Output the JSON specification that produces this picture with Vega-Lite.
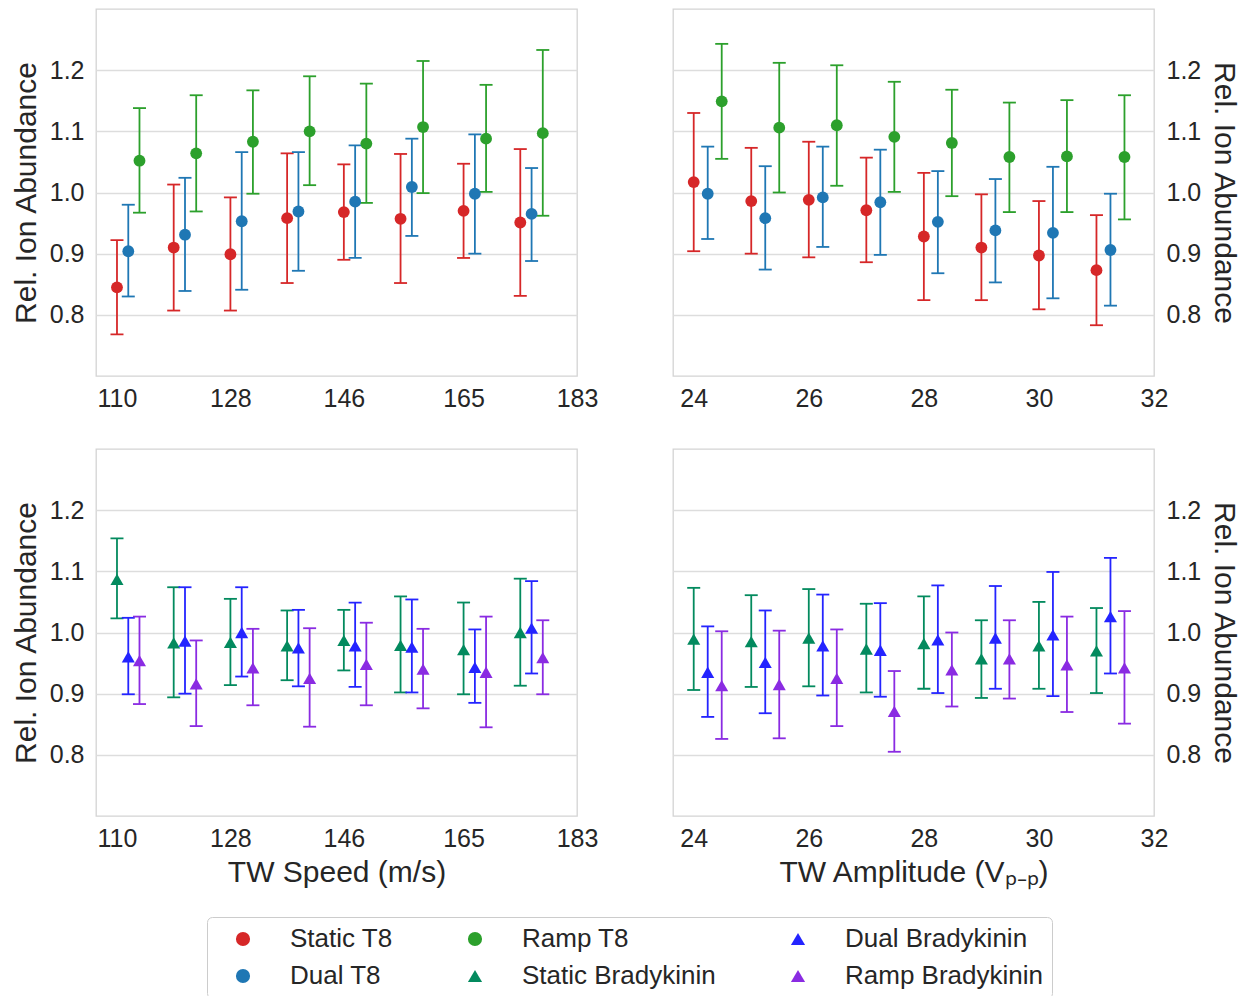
{
"$schema": "https://vega.github.io/schema/vega-lite/v6.json",
"padding": {"left": 10, "top": 8, "right": 5, "bottom": 5},
"background": "white",
"bounds": "flush",
"columns": 2,
"spacing": {"row": 73, "column": 96},
"config": {
  "font": "Liberation Sans",
  "view": {"stroke": "#d4d4d4", "strokeWidth": 1.3},
  "axis": {"labelFont": "Liberation Sans", "titleFont": "Liberation Sans", "labelFontSize": 25, "titleFontSize": 30, "titleFontWeight": "normal", "labelColor": "#262626", "titleColor": "#262626", "gridColor": "#dddddd", "gridWidth": 1.3, "ticks": false, "domain": false},
  "legend": {"labelFont": "Liberation Sans", "labelFontSize": 26, "labelColor": "#262626", "labelLimit": 500}
},
"datasets": {
  "t8speed": [
    {"series":"Static T8","speed":110,"value":0.845,"low":0.768,"high":0.922},
    {"series":"Static T8","speed":119,"value":0.910,"low":0.807,"high":1.013},
    {"series":"Static T8","speed":128,"value":0.899,"low":0.807,"high":0.992},
    {"series":"Static T8","speed":137,"value":0.958,"low":0.852,"high":1.064},
    {"series":"Static T8","speed":146,"value":0.968,"low":0.890,"high":1.046},
    {"series":"Static T8","speed":155,"value":0.957,"low":0.852,"high":1.063},
    {"series":"Static T8","speed":165,"value":0.970,"low":0.893,"high":1.047},
    {"series":"Static T8","speed":174,"value":0.951,"low":0.831,"high":1.071},
    {"series":"Dual T8","speed":110,"value":0.904,"low":0.830,"high":0.980},
    {"series":"Dual T8","speed":119,"value":0.931,"low":0.839,"high":1.024},
    {"series":"Dual T8","speed":128,"value":0.953,"low":0.841,"high":1.066},
    {"series":"Dual T8","speed":137,"value":0.969,"low":0.872,"high":1.066},
    {"series":"Dual T8","speed":146,"value":0.985,"low":0.893,"high":1.077},
    {"series":"Dual T8","speed":155,"value":1.009,"low":0.929,"high":1.088},
    {"series":"Dual T8","speed":165,"value":0.998,"low":0.900,"high":1.095},
    {"series":"Dual T8","speed":174,"value":0.965,"low":0.888,"high":1.040},
    {"series":"Ramp T8","speed":110,"value":1.052,"low":0.967,"high":1.138},
    {"series":"Ramp T8","speed":119,"value":1.064,"low":0.969,"high":1.159},
    {"series":"Ramp T8","speed":128,"value":1.083,"low":0.998,"high":1.167},
    {"series":"Ramp T8","speed":137,"value":1.100,"low":1.012,"high":1.190},
    {"series":"Ramp T8","speed":146,"value":1.080,"low":0.983,"high":1.178},
    {"series":"Ramp T8","speed":155,"value":1.107,"low":0.999,"high":1.215},
    {"series":"Ramp T8","speed":165,"value":1.088,"low":1.001,"high":1.176},
    {"series":"Ramp T8","speed":174,"value":1.097,"low":0.962,"high":1.233}
  ],
  "t8amp": [
    {"series":"Static T8","amplitude":24,"value":1.017,"low":0.904,"high":1.130},
    {"series":"Static T8","amplitude":25,"value":0.986,"low":0.900,"high":1.073},
    {"series":"Static T8","amplitude":26,"value":0.988,"low":0.894,"high":1.083},
    {"series":"Static T8","amplitude":27,"value":0.971,"low":0.886,"high":1.057},
    {"series":"Static T8","amplitude":28,"value":0.928,"low":0.824,"high":1.032},
    {"series":"Static T8","amplitude":29,"value":0.910,"low":0.824,"high":0.997},
    {"series":"Static T8","amplitude":30,"value":0.897,"low":0.809,"high":0.986},
    {"series":"Static T8","amplitude":31,"value":0.873,"low":0.783,"high":0.963},
    {"series":"Dual T8","amplitude":24,"value":0.998,"low":0.924,"high":1.075},
    {"series":"Dual T8","amplitude":25,"value":0.958,"low":0.874,"high":1.043},
    {"series":"Dual T8","amplitude":26,"value":0.992,"low":0.911,"high":1.075},
    {"series":"Dual T8","amplitude":27,"value":0.984,"low":0.898,"high":1.070},
    {"series":"Dual T8","amplitude":28,"value":0.952,"low":0.868,"high":1.035},
    {"series":"Dual T8","amplitude":29,"value":0.938,"low":0.853,"high":1.022},
    {"series":"Dual T8","amplitude":30,"value":0.934,"low":0.827,"high":1.042},
    {"series":"Dual T8","amplitude":31,"value":0.906,"low":0.815,"high":0.998},
    {"series":"Ramp T8","amplitude":24,"value":1.149,"low":1.055,"high":1.243},
    {"series":"Ramp T8","amplitude":25,"value":1.106,"low":1.000,"high":1.212},
    {"series":"Ramp T8","amplitude":26,"value":1.110,"low":1.011,"high":1.208},
    {"series":"Ramp T8","amplitude":27,"value":1.091,"low":1.001,"high":1.181},
    {"series":"Ramp T8","amplitude":28,"value":1.081,"low":0.994,"high":1.168},
    {"series":"Ramp T8","amplitude":29,"value":1.058,"low":0.968,"high":1.147},
    {"series":"Ramp T8","amplitude":30,"value":1.059,"low":0.968,"high":1.151},
    {"series":"Ramp T8","amplitude":31,"value":1.058,"low":0.956,"high":1.159}
  ],
  "bkspeed": [
    {"series":"Static Bradykinin","speed":110,"value":1.087,"low":1.023,"high":1.154},
    {"series":"Static Bradykinin","speed":119,"value":0.983,"low":0.894,"high":1.074},
    {"series":"Static Bradykinin","speed":128,"value":0.984,"low":0.914,"high":1.055},
    {"series":"Static Bradykinin","speed":137,"value":0.978,"low":0.922,"high":1.036},
    {"series":"Static Bradykinin","speed":146,"value":0.987,"low":0.938,"high":1.037},
    {"series":"Static Bradykinin","speed":155,"value":0.979,"low":0.902,"high":1.059},
    {"series":"Static Bradykinin","speed":165,"value":0.972,"low":0.899,"high":1.049},
    {"series":"Static Bradykinin","speed":174,"value":1.000,"low":0.913,"high":1.088},
    {"series":"Dual Bradykinin","speed":110,"value":0.960,"low":0.899,"high":1.024},
    {"series":"Dual Bradykinin","speed":119,"value":0.986,"low":0.900,"high":1.074},
    {"series":"Dual Bradykinin","speed":128,"value":1.000,"low":0.928,"high":1.074},
    {"series":"Dual Bradykinin","speed":137,"value":0.975,"low":0.912,"high":1.037},
    {"series":"Dual Bradykinin","speed":146,"value":0.978,"low":0.911,"high":1.049},
    {"series":"Dual Bradykinin","speed":155,"value":0.976,"low":0.902,"high":1.054},
    {"series":"Dual Bradykinin","speed":165,"value":0.943,"low":0.885,"high":1.005},
    {"series":"Dual Bradykinin","speed":174,"value":1.007,"low":0.933,"high":1.084},
    {"series":"Ramp Bradykinin","speed":110,"value":0.954,"low":0.883,"high":1.026},
    {"series":"Ramp Bradykinin","speed":119,"value":0.916,"low":0.847,"high":0.987},
    {"series":"Ramp Bradykinin","speed":128,"value":0.942,"low":0.881,"high":1.006},
    {"series":"Ramp Bradykinin","speed":137,"value":0.925,"low":0.846,"high":1.007},
    {"series":"Ramp Bradykinin","speed":146,"value":0.948,"low":0.881,"high":1.016},
    {"series":"Ramp Bradykinin","speed":155,"value":0.940,"low":0.876,"high":1.006},
    {"series":"Ramp Bradykinin","speed":165,"value":0.935,"low":0.845,"high":1.026},
    {"series":"Ramp Bradykinin","speed":174,"value":0.959,"low":0.899,"high":1.020}
  ],
  "bkamp": [
    {"series":"Static Bradykinin","amplitude":24,"value":0.989,"low":0.906,"high":1.073},
    {"series":"Static Bradykinin","amplitude":25,"value":0.985,"low":0.911,"high":1.061},
    {"series":"Static Bradykinin","amplitude":26,"value":0.991,"low":0.912,"high":1.071},
    {"series":"Static Bradykinin","amplitude":27,"value":0.973,"low":0.902,"high":1.047},
    {"series":"Static Bradykinin","amplitude":28,"value":0.982,"low":0.908,"high":1.059},
    {"series":"Static Bradykinin","amplitude":29,"value":0.957,"low":0.893,"high":1.020},
    {"series":"Static Bradykinin","amplitude":30,"value":0.978,"low":0.908,"high":1.050},
    {"series":"Static Bradykinin","amplitude":31,"value":0.970,"low":0.901,"high":1.040},
    {"series":"Dual Bradykinin","amplitude":24,"value":0.935,"low":0.862,"high":1.010},
    {"series":"Dual Bradykinin","amplitude":25,"value":0.951,"low":0.868,"high":1.036},
    {"series":"Dual Bradykinin","amplitude":26,"value":0.978,"low":0.897,"high":1.062},
    {"series":"Dual Bradykinin","amplitude":27,"value":0.971,"low":0.895,"high":1.048},
    {"series":"Dual Bradykinin","amplitude":28,"value":0.988,"low":0.901,"high":1.077},
    {"series":"Dual Bradykinin","amplitude":29,"value":0.991,"low":0.908,"high":1.076},
    {"series":"Dual Bradykinin","amplitude":30,"value":0.996,"low":0.896,"high":1.099},
    {"series":"Dual Bradykinin","amplitude":31,"value":1.026,"low":0.933,"high":1.122},
    {"series":"Ramp Bradykinin","amplitude":24,"value":0.913,"low":0.826,"high":1.002},
    {"series":"Ramp Bradykinin","amplitude":25,"value":0.915,"low":0.827,"high":1.003},
    {"series":"Ramp Bradykinin","amplitude":26,"value":0.925,"low":0.847,"high":1.005},
    {"series":"Ramp Bradykinin","amplitude":27,"value":0.871,"low":0.805,"high":0.937},
    {"series":"Ramp Bradykinin","amplitude":28,"value":0.939,"low":0.879,"high":1.000},
    {"series":"Ramp Bradykinin","amplitude":29,"value":0.957,"low":0.892,"high":1.020},
    {"series":"Ramp Bradykinin","amplitude":30,"value":0.947,"low":0.870,"high":1.026},
    {"series":"Ramp Bradykinin","amplitude":31,"value":0.942,"low":0.851,"high":1.035}
  ]
},
"concat": [
  {"width": 481, "height": 367, "data": {"name": "t8speed"},
   "encoding": {"x": {"field": "speed", "type": "quantitative", "scale": {"domain": [106.67, 183], "nice": false, "zero": false}, "axis": {"values": [110,128,146,165,183], "title": null, "grid": false, "labelPadding": 10, "labelFlush": false}}},
   "layer": [
    {"transform":[{"filter":"datum.series === 'Static T8'"}],"mark":{"type":"rule","color":"#d62728","strokeWidth":1.8,"xOffset":0},"encoding":{"y":{"field":"low","type":"quantitative","scale":{"domain":[0.7,1.3],"nice":false,"zero":false},"axis":{"title":"Rel. Ion Abundance","orient":"left","values":[0.8,0.9,1.0,1.1,1.2],"format":".1f","grid":true,"labelPadding":12,"titlePadding":8}},"y2":{"field":"high"}}},
    {"transform":[{"filter":"datum.series === 'Static T8'"},{"fold":["low","high"],"as":["bound","cap"]}],"mark":{"type":"tick","orient":"horizontal","color":"#d62728","size":13,"thickness":1.8,"opacity":1,"xOffset":0},"encoding":{"y":{"field":"cap","type":"quantitative","scale":{"domain":[0.7,1.3],"nice":false,"zero":false},"axis":{"title":"Rel. Ion Abundance","orient":"left","values":[0.8,0.9,1.0,1.1,1.2],"format":".1f","grid":true,"labelPadding":12,"titlePadding":8}}}},
    {"transform":[{"filter":"datum.series === 'Dual T8'"}],"mark":{"type":"rule","color":"#1f77b4","strokeWidth":1.8,"xOffset":11.3},"encoding":{"y":{"field":"low","type":"quantitative","scale":{"domain":[0.7,1.3],"nice":false,"zero":false},"axis":{"title":"Rel. Ion Abundance","orient":"left","values":[0.8,0.9,1.0,1.1,1.2],"format":".1f","grid":true,"labelPadding":12,"titlePadding":8}},"y2":{"field":"high"}}},
    {"transform":[{"filter":"datum.series === 'Dual T8'"},{"fold":["low","high"],"as":["bound","cap"]}],"mark":{"type":"tick","orient":"horizontal","color":"#1f77b4","size":13,"thickness":1.8,"opacity":1,"xOffset":11.3},"encoding":{"y":{"field":"cap","type":"quantitative","scale":{"domain":[0.7,1.3],"nice":false,"zero":false},"axis":{"title":"Rel. Ion Abundance","orient":"left","values":[0.8,0.9,1.0,1.1,1.2],"format":".1f","grid":true,"labelPadding":12,"titlePadding":8}}}},
    {"transform":[{"filter":"datum.series === 'Ramp T8'"}],"mark":{"type":"rule","color":"#2ca02c","strokeWidth":1.8,"xOffset":22.5},"encoding":{"y":{"field":"low","type":"quantitative","scale":{"domain":[0.7,1.3],"nice":false,"zero":false},"axis":{"title":"Rel. Ion Abundance","orient":"left","values":[0.8,0.9,1.0,1.1,1.2],"format":".1f","grid":true,"labelPadding":12,"titlePadding":8}},"y2":{"field":"high"}}},
    {"transform":[{"filter":"datum.series === 'Ramp T8'"},{"fold":["low","high"],"as":["bound","cap"]}],"mark":{"type":"tick","orient":"horizontal","color":"#2ca02c","size":13,"thickness":1.8,"opacity":1,"xOffset":22.5},"encoding":{"y":{"field":"cap","type":"quantitative","scale":{"domain":[0.7,1.3],"nice":false,"zero":false},"axis":{"title":"Rel. Ion Abundance","orient":"left","values":[0.8,0.9,1.0,1.1,1.2],"format":".1f","grid":true,"labelPadding":12,"titlePadding":8}}}},
    {"transform":[{"filter":"datum.series === 'Static T8'"}],"mark":{"type":"point","filled":true,"opacity":1,"size":140,"xOffset":0},"encoding":{"y":{"field":"value","type":"quantitative","scale":{"domain":[0.7,1.3],"nice":false,"zero":false},"axis":{"title":"Rel. Ion Abundance","orient":"left","values":[0.8,0.9,1.0,1.1,1.2],"format":".1f","grid":true,"labelPadding":12,"titlePadding":8}},
      "color":{"field":"series","type":"nominal","title":null,"scale":{"domain":["Static T8","Ramp T8","Dual Bradykinin","Dual T8","Static Bradykinin","Ramp Bradykinin"],"range":["#d62728","#2ca02c","#2424ff","#1f77b4","#038a5e","#8a2be2"]},"legend":{"orient":"none","legendX":111,"legendY":908,"columns":3,"direction":"horizontal","columnPadding":55,"rowPadding":11,"symbolSize":200,"symbolOffset":14,"labelOffset":34,"padding":9,"strokeColor":"#cccccc","cornerRadius":5,"fillColor":"white","symbolStrokeWidth":0,"labelLimit":500}},
      "shape":{"field":"series","type":"nominal","title":null,"scale":{"domain":["Static T8","Ramp T8","Dual Bradykinin","Dual T8","Static Bradykinin","Ramp Bradykinin"],"range":["circle","circle","triangle-up","circle","triangle-up","triangle-up"]},"legend":{"orient":"none","legendX":111,"legendY":908,"columns":3,"direction":"horizontal","columnPadding":55,"rowPadding":11,"symbolSize":200,"symbolOffset":14,"labelOffset":34,"padding":9,"strokeColor":"#cccccc","cornerRadius":5,"fillColor":"white","symbolStrokeWidth":0,"labelLimit":500}}}},
    {"transform":[{"filter":"datum.series === 'Dual T8'"}],"mark":{"type":"point","filled":true,"opacity":1,"size":140,"xOffset":11.3},"encoding":{"y":{"field":"value","type":"quantitative","scale":{"domain":[0.7,1.3],"nice":false,"zero":false},"axis":{"title":"Rel. Ion Abundance","orient":"left","values":[0.8,0.9,1.0,1.1,1.2],"format":".1f","grid":true,"labelPadding":12,"titlePadding":8}},"color":{"field":"series","type":"nominal","title":null},"shape":{"field":"series","type":"nominal","title":null}}},
    {"transform":[{"filter":"datum.series === 'Ramp T8'"}],"mark":{"type":"point","filled":true,"opacity":1,"size":140,"xOffset":22.5},"encoding":{"y":{"field":"value","type":"quantitative","scale":{"domain":[0.7,1.3],"nice":false,"zero":false},"axis":{"title":"Rel. Ion Abundance","orient":"left","values":[0.8,0.9,1.0,1.1,1.2],"format":".1f","grid":true,"labelPadding":12,"titlePadding":8}},"color":{"field":"series","type":"nominal","title":null},"shape":{"field":"series","type":"nominal","title":null}}}
   ]},
  {"width": 481, "height": 367, "data": {"name": "t8amp"},
   "encoding": {"x": {"field": "amplitude", "type": "quantitative", "scale": {"domain": [23.64, 32], "nice": false, "zero": false}, "axis": {"values": [24,26,28,30,32], "title": null, "grid": false, "labelPadding": 10, "labelFlush": false}}},
   "layer": [
    {"transform":[{"filter":"datum.series === 'Static T8'"}],"mark":{"type":"rule","color":"#d62728","strokeWidth":1.8,"xOffset":0},"encoding":{"y":{"field":"low","type":"quantitative","scale":{"domain":[0.7,1.3],"nice":false,"zero":false},"axis":{"title":"Rel. Ion Abundance","orient":"right","values":[0.8,0.9,1.0,1.1,1.2],"format":".1f","grid":true,"labelPadding":12,"titlePadding":8}},"y2":{"field":"high"}}},
    {"transform":[{"filter":"datum.series === 'Static T8'"},{"fold":["low","high"],"as":["bound","cap"]}],"mark":{"type":"tick","orient":"horizontal","color":"#d62728","size":13,"thickness":1.8,"opacity":1,"xOffset":0},"encoding":{"y":{"field":"cap","type":"quantitative","scale":{"domain":[0.7,1.3],"nice":false,"zero":false},"axis":{"title":"Rel. Ion Abundance","orient":"right","values":[0.8,0.9,1.0,1.1,1.2],"format":".1f","grid":true,"labelPadding":12,"titlePadding":8}}}},
    {"transform":[{"filter":"datum.series === 'Dual T8'"}],"mark":{"type":"rule","color":"#1f77b4","strokeWidth":1.8,"xOffset":14},"encoding":{"y":{"field":"low","type":"quantitative","scale":{"domain":[0.7,1.3],"nice":false,"zero":false},"axis":{"title":"Rel. Ion Abundance","orient":"right","values":[0.8,0.9,1.0,1.1,1.2],"format":".1f","grid":true,"labelPadding":12,"titlePadding":8}},"y2":{"field":"high"}}},
    {"transform":[{"filter":"datum.series === 'Dual T8'"},{"fold":["low","high"],"as":["bound","cap"]}],"mark":{"type":"tick","orient":"horizontal","color":"#1f77b4","size":13,"thickness":1.8,"opacity":1,"xOffset":14},"encoding":{"y":{"field":"cap","type":"quantitative","scale":{"domain":[0.7,1.3],"nice":false,"zero":false},"axis":{"title":"Rel. Ion Abundance","orient":"right","values":[0.8,0.9,1.0,1.1,1.2],"format":".1f","grid":true,"labelPadding":12,"titlePadding":8}}}},
    {"transform":[{"filter":"datum.series === 'Ramp T8'"}],"mark":{"type":"rule","color":"#2ca02c","strokeWidth":1.8,"xOffset":28},"encoding":{"y":{"field":"low","type":"quantitative","scale":{"domain":[0.7,1.3],"nice":false,"zero":false},"axis":{"title":"Rel. Ion Abundance","orient":"right","values":[0.8,0.9,1.0,1.1,1.2],"format":".1f","grid":true,"labelPadding":12,"titlePadding":8}},"y2":{"field":"high"}}},
    {"transform":[{"filter":"datum.series === 'Ramp T8'"},{"fold":["low","high"],"as":["bound","cap"]}],"mark":{"type":"tick","orient":"horizontal","color":"#2ca02c","size":13,"thickness":1.8,"opacity":1,"xOffset":28},"encoding":{"y":{"field":"cap","type":"quantitative","scale":{"domain":[0.7,1.3],"nice":false,"zero":false},"axis":{"title":"Rel. Ion Abundance","orient":"right","values":[0.8,0.9,1.0,1.1,1.2],"format":".1f","grid":true,"labelPadding":12,"titlePadding":8}}}},
    {"transform":[{"filter":"datum.series === 'Static T8'"}],"mark":{"type":"point","filled":true,"opacity":1,"size":140,"xOffset":0},"encoding":{"y":{"field":"value","type":"quantitative","scale":{"domain":[0.7,1.3],"nice":false,"zero":false},"axis":{"title":"Rel. Ion Abundance","orient":"right","values":[0.8,0.9,1.0,1.1,1.2],"format":".1f","grid":true,"labelPadding":12,"titlePadding":8}},"color":{"field":"series","type":"nominal","title":null},"shape":{"field":"series","type":"nominal","title":null}}},
    {"transform":[{"filter":"datum.series === 'Dual T8'"}],"mark":{"type":"point","filled":true,"opacity":1,"size":140,"xOffset":14},"encoding":{"y":{"field":"value","type":"quantitative","scale":{"domain":[0.7,1.3],"nice":false,"zero":false},"axis":{"title":"Rel. Ion Abundance","orient":"right","values":[0.8,0.9,1.0,1.1,1.2],"format":".1f","grid":true,"labelPadding":12,"titlePadding":8}},"color":{"field":"series","type":"nominal","title":null},"shape":{"field":"series","type":"nominal","title":null}}},
    {"transform":[{"filter":"datum.series === 'Ramp T8'"}],"mark":{"type":"point","filled":true,"opacity":1,"size":140,"xOffset":28},"encoding":{"y":{"field":"value","type":"quantitative","scale":{"domain":[0.7,1.3],"nice":false,"zero":false},"axis":{"title":"Rel. Ion Abundance","orient":"right","values":[0.8,0.9,1.0,1.1,1.2],"format":".1f","grid":true,"labelPadding":12,"titlePadding":8}},"color":{"field":"series","type":"nominal","title":null},"shape":{"field":"series","type":"nominal","title":null}}}
   ]},
  {"width": 481, "height": 367, "data": {"name": "bkspeed"},
   "encoding": {"x": {"field": "speed", "type": "quantitative", "scale": {"domain": [106.67, 183], "nice": false, "zero": false}, "axis": {"values": [110,128,146,165,183], "title": "TW Speed (m/s)", "grid": false, "labelPadding": 10, "labelFlush": false, "titlePadding": 6}}},
   "layer": [
    {"transform":[{"filter":"datum.series === 'Static Bradykinin'"}],"mark":{"type":"rule","color":"#038a5e","strokeWidth":1.8,"xOffset":0},"encoding":{"y":{"field":"low","type":"quantitative","scale":{"domain":[0.7,1.3],"nice":false,"zero":false},"axis":{"title":"Rel. Ion Abundance","orient":"left","values":[0.8,0.9,1.0,1.1,1.2],"format":".1f","grid":true,"labelPadding":12,"titlePadding":8}},"y2":{"field":"high"}}},
    {"transform":[{"filter":"datum.series === 'Static Bradykinin'"},{"fold":["low","high"],"as":["bound","cap"]}],"mark":{"type":"tick","orient":"horizontal","color":"#038a5e","size":13,"thickness":1.8,"opacity":1,"xOffset":0},"encoding":{"y":{"field":"cap","type":"quantitative","scale":{"domain":[0.7,1.3],"nice":false,"zero":false},"axis":{"title":"Rel. Ion Abundance","orient":"left","values":[0.8,0.9,1.0,1.1,1.2],"format":".1f","grid":true,"labelPadding":12,"titlePadding":8}}}},
    {"transform":[{"filter":"datum.series === 'Dual Bradykinin'"}],"mark":{"type":"rule","color":"#2424ff","strokeWidth":1.8,"xOffset":11.3},"encoding":{"y":{"field":"low","type":"quantitative","scale":{"domain":[0.7,1.3],"nice":false,"zero":false},"axis":{"title":"Rel. Ion Abundance","orient":"left","values":[0.8,0.9,1.0,1.1,1.2],"format":".1f","grid":true,"labelPadding":12,"titlePadding":8}},"y2":{"field":"high"}}},
    {"transform":[{"filter":"datum.series === 'Dual Bradykinin'"},{"fold":["low","high"],"as":["bound","cap"]}],"mark":{"type":"tick","orient":"horizontal","color":"#2424ff","size":13,"thickness":1.8,"opacity":1,"xOffset":11.3},"encoding":{"y":{"field":"cap","type":"quantitative","scale":{"domain":[0.7,1.3],"nice":false,"zero":false},"axis":{"title":"Rel. Ion Abundance","orient":"left","values":[0.8,0.9,1.0,1.1,1.2],"format":".1f","grid":true,"labelPadding":12,"titlePadding":8}}}},
    {"transform":[{"filter":"datum.series === 'Ramp Bradykinin'"}],"mark":{"type":"rule","color":"#8a2be2","strokeWidth":1.8,"xOffset":22.5},"encoding":{"y":{"field":"low","type":"quantitative","scale":{"domain":[0.7,1.3],"nice":false,"zero":false},"axis":{"title":"Rel. Ion Abundance","orient":"left","values":[0.8,0.9,1.0,1.1,1.2],"format":".1f","grid":true,"labelPadding":12,"titlePadding":8}},"y2":{"field":"high"}}},
    {"transform":[{"filter":"datum.series === 'Ramp Bradykinin'"},{"fold":["low","high"],"as":["bound","cap"]}],"mark":{"type":"tick","orient":"horizontal","color":"#8a2be2","size":13,"thickness":1.8,"opacity":1,"xOffset":22.5},"encoding":{"y":{"field":"cap","type":"quantitative","scale":{"domain":[0.7,1.3],"nice":false,"zero":false},"axis":{"title":"Rel. Ion Abundance","orient":"left","values":[0.8,0.9,1.0,1.1,1.2],"format":".1f","grid":true,"labelPadding":12,"titlePadding":8}}}},
    {"transform":[{"filter":"datum.series === 'Static Bradykinin'"}],"mark":{"type":"point","filled":true,"opacity":1,"size":170,"xOffset":0},"encoding":{"y":{"field":"value","type":"quantitative","scale":{"domain":[0.7,1.3],"nice":false,"zero":false},"axis":{"title":"Rel. Ion Abundance","orient":"left","values":[0.8,0.9,1.0,1.1,1.2],"format":".1f","grid":true,"labelPadding":12,"titlePadding":8}},"color":{"field":"series","type":"nominal","title":null},"shape":{"field":"series","type":"nominal","title":null}}},
    {"transform":[{"filter":"datum.series === 'Dual Bradykinin'"}],"mark":{"type":"point","filled":true,"opacity":1,"size":170,"xOffset":11.3},"encoding":{"y":{"field":"value","type":"quantitative","scale":{"domain":[0.7,1.3],"nice":false,"zero":false},"axis":{"title":"Rel. Ion Abundance","orient":"left","values":[0.8,0.9,1.0,1.1,1.2],"format":".1f","grid":true,"labelPadding":12,"titlePadding":8}},"color":{"field":"series","type":"nominal","title":null},"shape":{"field":"series","type":"nominal","title":null}}},
    {"transform":[{"filter":"datum.series === 'Ramp Bradykinin'"}],"mark":{"type":"point","filled":true,"opacity":1,"size":170,"xOffset":22.5},"encoding":{"y":{"field":"value","type":"quantitative","scale":{"domain":[0.7,1.3],"nice":false,"zero":false},"axis":{"title":"Rel. Ion Abundance","orient":"left","values":[0.8,0.9,1.0,1.1,1.2],"format":".1f","grid":true,"labelPadding":12,"titlePadding":8}},"color":{"field":"series","type":"nominal","title":null},"shape":{"field":"series","type":"nominal","title":null}}}
   ]},
  {"width": 481, "height": 367, "data": {"name": "bkamp"},
   "encoding": {"x": {"field": "amplitude", "type": "quantitative", "scale": {"domain": [23.64, 32], "nice": false, "zero": false}, "axis": {"values": [24,26,28,30,32], "title": "TW Amplitude (Vₚ₋ₚ)", "grid": false, "labelPadding": 10, "labelFlush": false, "titlePadding": 6}}},
   "layer": [
    {"transform":[{"filter":"datum.series === 'Static Bradykinin'"}],"mark":{"type":"rule","color":"#038a5e","strokeWidth":1.8,"xOffset":0},"encoding":{"y":{"field":"low","type":"quantitative","scale":{"domain":[0.7,1.3],"nice":false,"zero":false},"axis":{"title":"Rel. Ion Abundance","orient":"right","values":[0.8,0.9,1.0,1.1,1.2],"format":".1f","grid":true,"labelPadding":12,"titlePadding":8}},"y2":{"field":"high"}}},
    {"transform":[{"filter":"datum.series === 'Static Bradykinin'"},{"fold":["low","high"],"as":["bound","cap"]}],"mark":{"type":"tick","orient":"horizontal","color":"#038a5e","size":13,"thickness":1.8,"opacity":1,"xOffset":0},"encoding":{"y":{"field":"cap","type":"quantitative","scale":{"domain":[0.7,1.3],"nice":false,"zero":false},"axis":{"title":"Rel. Ion Abundance","orient":"right","values":[0.8,0.9,1.0,1.1,1.2],"format":".1f","grid":true,"labelPadding":12,"titlePadding":8}}}},
    {"transform":[{"filter":"datum.series === 'Dual Bradykinin'"}],"mark":{"type":"rule","color":"#2424ff","strokeWidth":1.8,"xOffset":14},"encoding":{"y":{"field":"low","type":"quantitative","scale":{"domain":[0.7,1.3],"nice":false,"zero":false},"axis":{"title":"Rel. Ion Abundance","orient":"right","values":[0.8,0.9,1.0,1.1,1.2],"format":".1f","grid":true,"labelPadding":12,"titlePadding":8}},"y2":{"field":"high"}}},
    {"transform":[{"filter":"datum.series === 'Dual Bradykinin'"},{"fold":["low","high"],"as":["bound","cap"]}],"mark":{"type":"tick","orient":"horizontal","color":"#2424ff","size":13,"thickness":1.8,"opacity":1,"xOffset":14},"encoding":{"y":{"field":"cap","type":"quantitative","scale":{"domain":[0.7,1.3],"nice":false,"zero":false},"axis":{"title":"Rel. Ion Abundance","orient":"right","values":[0.8,0.9,1.0,1.1,1.2],"format":".1f","grid":true,"labelPadding":12,"titlePadding":8}}}},
    {"transform":[{"filter":"datum.series === 'Ramp Bradykinin'"}],"mark":{"type":"rule","color":"#8a2be2","strokeWidth":1.8,"xOffset":28},"encoding":{"y":{"field":"low","type":"quantitative","scale":{"domain":[0.7,1.3],"nice":false,"zero":false},"axis":{"title":"Rel. Ion Abundance","orient":"right","values":[0.8,0.9,1.0,1.1,1.2],"format":".1f","grid":true,"labelPadding":12,"titlePadding":8}},"y2":{"field":"high"}}},
    {"transform":[{"filter":"datum.series === 'Ramp Bradykinin'"},{"fold":["low","high"],"as":["bound","cap"]}],"mark":{"type":"tick","orient":"horizontal","color":"#8a2be2","size":13,"thickness":1.8,"opacity":1,"xOffset":28},"encoding":{"y":{"field":"cap","type":"quantitative","scale":{"domain":[0.7,1.3],"nice":false,"zero":false},"axis":{"title":"Rel. Ion Abundance","orient":"right","values":[0.8,0.9,1.0,1.1,1.2],"format":".1f","grid":true,"labelPadding":12,"titlePadding":8}}}},
    {"transform":[{"filter":"datum.series === 'Static Bradykinin'"}],"mark":{"type":"point","filled":true,"opacity":1,"size":170,"xOffset":0},"encoding":{"y":{"field":"value","type":"quantitative","scale":{"domain":[0.7,1.3],"nice":false,"zero":false},"axis":{"title":"Rel. Ion Abundance","orient":"right","values":[0.8,0.9,1.0,1.1,1.2],"format":".1f","grid":true,"labelPadding":12,"titlePadding":8}},"color":{"field":"series","type":"nominal","title":null},"shape":{"field":"series","type":"nominal","title":null}}},
    {"transform":[{"filter":"datum.series === 'Dual Bradykinin'"}],"mark":{"type":"point","filled":true,"opacity":1,"size":170,"xOffset":14},"encoding":{"y":{"field":"value","type":"quantitative","scale":{"domain":[0.7,1.3],"nice":false,"zero":false},"axis":{"title":"Rel. Ion Abundance","orient":"right","values":[0.8,0.9,1.0,1.1,1.2],"format":".1f","grid":true,"labelPadding":12,"titlePadding":8}},"color":{"field":"series","type":"nominal","title":null},"shape":{"field":"series","type":"nominal","title":null}}},
    {"transform":[{"filter":"datum.series === 'Ramp Bradykinin'"}],"mark":{"type":"point","filled":true,"opacity":1,"size":170,"xOffset":28},"encoding":{"y":{"field":"value","type":"quantitative","scale":{"domain":[0.7,1.3],"nice":false,"zero":false},"axis":{"title":"Rel. Ion Abundance","orient":"right","values":[0.8,0.9,1.0,1.1,1.2],"format":".1f","grid":true,"labelPadding":12,"titlePadding":8}},"color":{"field":"series","type":"nominal","title":null},"shape":{"field":"series","type":"nominal","title":null}}}
   ]}
]
}
